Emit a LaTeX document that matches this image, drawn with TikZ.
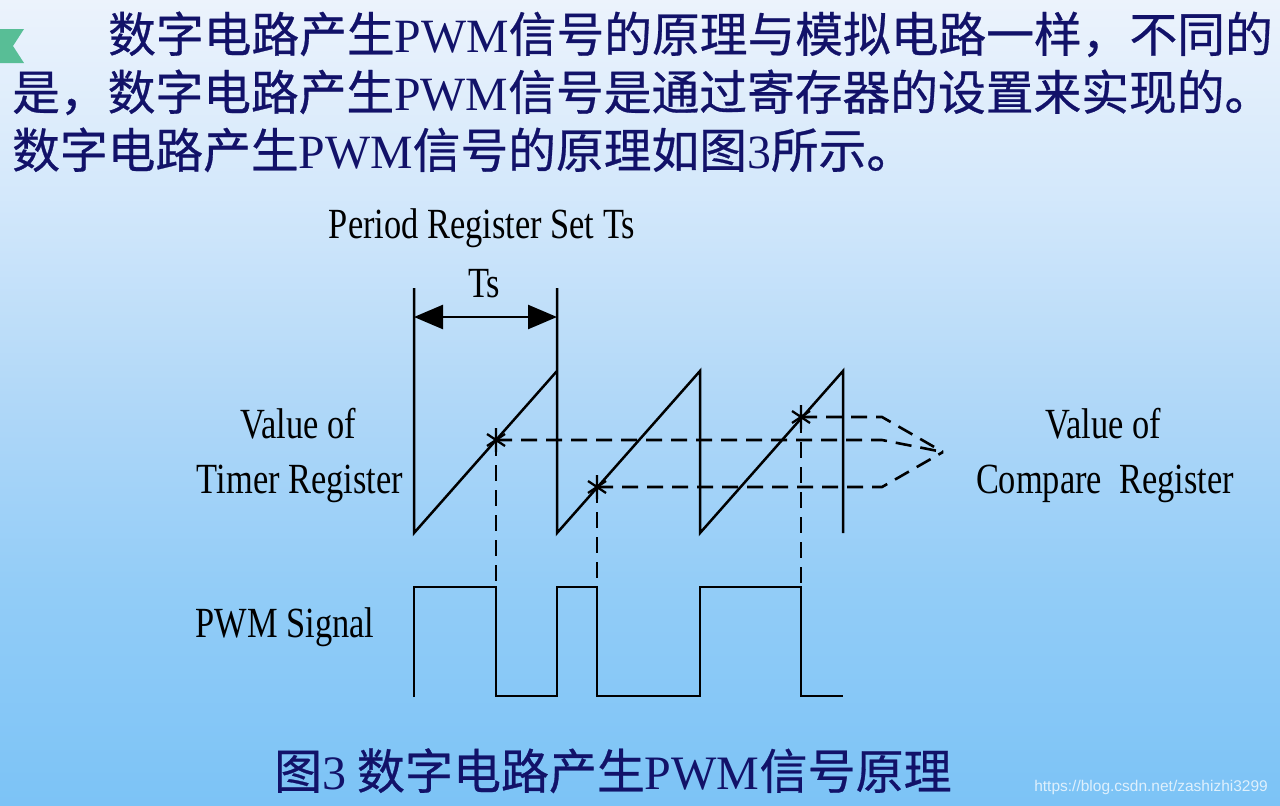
\documentclass[tikz,border=0pt]{standalone}
\usepackage{fontspec}
\usepackage{graphicx}
\setmainfont{Liberation Serif}
\newfontfamily\cjk[FakeBold=0.6]{Noto Sans CJK SC}
\newfontfamily\wmfont{Liberation Sans}
\usetikzlibrary{arrows.meta}
\definecolor{navy}{RGB}{18,18,105}
\definecolor{ribbon}{RGB}{88,190,150}
\pgfdeclareverticalshading{bgshade}{100bp}{rgb(0bp)=(0.486,0.765,0.965); rgb(25bp)=(0.486,0.765,0.965); rgb(38bp)=(0.57,0.80,0.97); rgb(50bp)=(0.69,0.845,0.972); rgb(63bp)=(0.83,0.91,0.984); rgb(75bp)=(0.925,0.953,0.988); rgb(100bp)=(0.925,0.953,0.988)}
\newcommand{\lat}[1]{{\rmfamily #1}}
\newcommand{\cond}[1]{\scalebox{0.8}[1]{#1}}
\tikzset{
  cntext/.style={font=\cjk\fontsize{47.75}{47.75}\selectfont, text=navy, anchor=base west, inner sep=0pt},
  lbl/.style={font=\fontsize{43}{43}\selectfont, anchor=base, inner sep=0pt},
  wave/.style={line width=2.5pt, line join=miter},
  dsh/.style={line width=2.6pt, dash pattern=on 16pt off 9pt},
  pics/astmark/.style={code={\draw[line width=2.3pt] (0,-12) -- (0,12) (-9,-6) -- (9,6) (-9,6) -- (9,-6);}},
  tsarrow/.style={line width=2.5pt, {Triangle[length=29pt,width=24pt]}-{Triangle[length=29pt,width=24pt]}}
}
\begin{document}
\begin{tikzpicture}[x=1pt,y=-1pt]
\shade[shading=bgshade] (0,0) rectangle (1280,806);
\useasboundingbox (0,0) rectangle (1280,806);
\fill[ribbon] (0,29) -- (24,29) -- (13,46) -- (24,63) -- (0,63) -- cycle;
% top text
\node[cntext] (l1) at (108,52) {数字电路产生\lat{PWM}信号的原理与模拟电路一样，不同的};
\node[cntext] (l2) at (12,110) {是，数字电路产生\lat{PWM}信号是通过寄存器的设置来实现的。};
\node[cntext] (l3) at (12,168) {数字电路产生\lat{PWM}信号的原理如图\lat{3}所示。};
% sawtooth
\coordinate (T0) at (414,288);
\coordinate (T1) at (557,288);
\coordinate (A0) at (414,533);
\coordinate (P1) at (557,371);
\coordinate (B1) at (557,533);
\coordinate (P2) at (700,371);
\coordinate (B2) at (700,533);
\coordinate (P3) at (843,371);
\coordinate (B3) at (843,533);
\draw[wave] (T0) -- (A0) -- (P1);
\draw[wave] (T1) -- (B1) -- (P2) -- (B2) -- (P3) -- (B3);
% Ts arrow
\coordinate (TA) at (414,317);
\coordinate (TB) at (557,317);
\draw[tsarrow] (TA) -- (TB);
% compare points
\coordinate (S1) at (496,440);
\coordinate (S2) at (597,487);
\coordinate (S3) at (801,417);
\coordinate (K1) at (882,440);
\coordinate (K2) at (882,487);
\coordinate (K3) at (882,417);
\coordinate (tip) at (943,452);
\draw[dsh] (S1) -- (K1) -- (tip);
\draw[dsh] (S2) -- (K2) -- (tip);
\draw[dsh] (S3) -- (K3) -- (tip);
% vertical dashed
\coordinate (D1) at (496,587);
\coordinate (D2) at (597,587);
\coordinate (D3) at (801,587);
\draw[dsh] (S1) -- (D1);
\draw[dsh] (S2) -- (D2);
\draw[dsh] (S3) -- (D3);
\pic at (S1) {astmark};
\pic at (S2) {astmark};
\pic at (S3) {astmark};
% PWM
\draw[wave] (414,697) -- (414,587) -- (D1) -- (496,696) -- (557,696) -- (557,587) -- (D2) -- (597,696) -- (700,696) -- (700,587) -- (D3) -- (801,696) -- (843,696);
% labels
\node[lbl] (per) at (482,238) {\cond{Period Register Set Ts}};
\node[lbl] (ts) at (484,297) {\cond{Ts}};
\node[lbl] (tv1) at (298,438) {\cond{Value of}};
\node[lbl] (tv2) at (300,493) {\cond{Timer Register}};
\node[lbl] (cv1) at (1103,438) {\cond{Value of}};
\node[lbl] (cv2) at (1105,493) {\cond{Compare\ \ Register}};
\node[lbl] (pwm) at (285,637) {\cond{PWM Signal}};
% caption
\node[cntext, font=\cjk\fontsize{48}{48}\selectfont] (cap) at (274,789) {图\lat{3} 数字电路产生\lat{PWM}信号原理};
% watermark
\node[font=\wmfont\fontsize{15.5}{15.5}\selectfont, text=white, text opacity=0.75, anchor=base east, inner sep=0pt] (wm) at (1268,791) {https://blog.csdn.net/zashizhi3299};
\end{tikzpicture}
\end{document}
